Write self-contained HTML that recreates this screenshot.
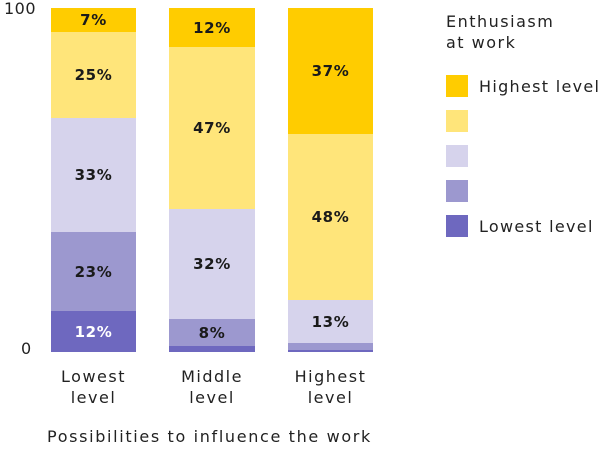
<!DOCTYPE html><html><head><style>
body{margin:0;width:600px;height:451px;background:#fff;font-family:"DejaVu Sans","Liberation Sans",sans-serif;position:relative;overflow:hidden}
.s{position:absolute;display:flex;align-items:center;justify-content:center;font-weight:bold;font-size:15px;letter-spacing:0.6px;color:#1a1a1a}
.t{position:absolute;font-size:16px;color:#222;white-space:nowrap;letter-spacing:1.5px}
.sw{position:absolute;left:446px;width:22px;height:22px}
</style></head><body>
<div class="t" style="left:21px;top:339px">0</div>
<div class="t" style="left:4px;top:-1px;letter-spacing:0.5px">100</div>

<div class="s" style="left:51px;width:85px;top:8px;height:24px;background:#FFCC00">7%</div>
<div class="s" style="left:51px;width:85px;top:32px;height:86px;background:#FFE57A">25%</div>
<div class="s" style="left:51px;width:85px;top:118px;height:114px;background:#D6D3EC">33%</div>
<div class="s" style="left:51px;width:85px;top:232px;height:79px;background:#9C98CF">23%</div>
<div class="s" style="left:51px;width:85px;top:311px;height:41px;background:#6E68BF;color:#fff">12%</div>

<div class="s" style="left:169px;width:86px;top:8px;height:39px;background:#FFCC00">12%</div>
<div class="s" style="left:169px;width:86px;top:47px;height:162px;background:#FFE57A">47%</div>
<div class="s" style="left:169px;width:86px;top:209px;height:110px;background:#D6D3EC">32%</div>
<div class="s" style="left:169px;width:86px;top:319px;height:27px;background:#9C98CF">8%</div>
<div class="s" style="left:169px;width:86px;top:346px;height:6px;background:#6E68BF"></div>

<div class="s" style="left:288px;width:85px;top:8px;height:126px;background:#FFCC00">37%</div>
<div class="s" style="left:288px;width:85px;top:134px;height:166px;background:#FFE57A">48%</div>
<div class="s" style="left:288px;width:85px;top:300px;height:43px;background:#D6D3EC">13%</div>
<div class="s" style="left:288px;width:85px;top:343px;height:7px;background:#9C98CF"></div>
<div class="s" style="left:288px;width:85px;top:350px;height:2px;background:#6E68BF"></div>

<div class="t" style="left:51px;width:85px;text-align:center;top:366px;line-height:21px">Lowest<br>level</div>
<div class="t" style="left:169px;width:86px;text-align:center;top:366px;line-height:21px">Middle<br>level</div>
<div class="t" style="left:288px;width:85px;text-align:center;top:366px;line-height:21px">Highest<br>level</div>
<div class="t" style="left:47px;top:427px;letter-spacing:1.65px">Possibilities to influence the work</div>

<div class="t" style="left:446px;top:11px;line-height:21px">Enthusiasm<br>at work</div>
<div class="sw" style="top:75px;background:#FFCC00"></div><div class="t" style="left:479px;top:77px;letter-spacing:1.3px">Highest level</div>
<div class="sw" style="top:110px;background:#FFE57A"></div>
<div class="sw" style="top:145px;background:#D6D3EC"></div>
<div class="sw" style="top:180px;background:#9C98CF"></div>
<div class="sw" style="top:215px;background:#6E68BF"></div><div class="t" style="left:479px;top:217px;letter-spacing:1.3px">Lowest level</div>
</body></html>
